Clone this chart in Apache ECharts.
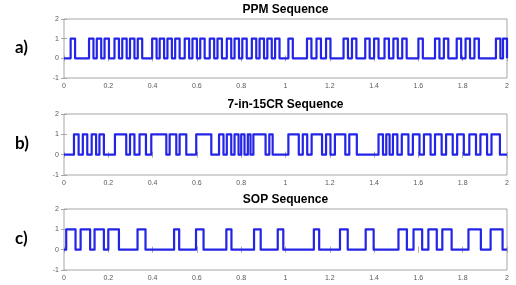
<!DOCTYPE html>
<html>
<head>
<meta charset="utf-8">
<script src="https://cdn.jsdelivr.net/npm/echarts@6/dist/echarts.min.js"></script>
<style>
  html, body { margin: 0; padding: 0; background: #fff; }
  #chart { width: 516px; height: 285px; }
</style>
</head>
<body>
<div id="chart"></div>
<script>
// pulse [start, end] pairs (time axis 0..2)
const ppmPulses = [
  [0.030, 0.050], [0.113, 0.133], [0.148, 0.168], [0.183, 0.203],
  [0.228, 0.248], [0.263, 0.283], [0.298, 0.318], [0.333, 0.353],
  [0.398, 0.418], [0.432, 0.452], [0.467, 0.487], [0.502, 0.522],
  [0.545, 0.565], [0.580, 0.600], [0.615, 0.635], [0.658, 0.678],
  [0.693, 0.713], [0.735, 0.755], [0.770, 0.790], [0.805, 0.825],
  [0.848, 0.868], [0.883, 0.903], [0.918, 0.938], [0.953, 0.973],
  [1.013, 1.033], [1.097, 1.117], [1.140, 1.160], [1.183, 1.203],
  [1.262, 1.282], [1.300, 1.320], [1.360, 1.380], [1.400, 1.420],
  [1.447, 1.467], [1.487, 1.507], [1.527, 1.547], [1.600, 1.620],
  [1.675, 1.695], [1.715, 1.735], [1.773, 1.793], [1.813, 1.833],
  [1.853, 1.873], [1.950, 1.970], [1.982, 2.000]
];

const crPulses = [
  [0.045, 0.066], [0.085, 0.105], [0.125, 0.145], [0.160, 0.180],
  [0.230, 0.281], [0.298, 0.318], [0.341, 0.370], [0.394, 0.462],
  [0.477, 0.507], [0.522, 0.552], [0.597, 0.665], [0.700, 0.720],
  [0.735, 0.755], [0.770, 0.788], [0.800, 0.815], [0.830, 0.842],
  [0.855, 0.910], [0.927, 0.942], [1.013, 1.060], [1.078, 1.098],
  [1.118, 1.165], [1.183, 1.203], [1.223, 1.270], [1.288, 1.322],
  [1.420, 1.440], [1.455, 1.470], [1.485, 1.505], [1.525, 1.555],
  [1.575, 1.605], [1.625, 1.655], [1.675, 1.705], [1.725, 1.755],
  [1.775, 1.805], [1.830, 1.860], [1.880, 1.910], [1.930, 1.968]
];

const sopPulses = [
  [0.010, 0.052], [0.075, 0.118], [0.138, 0.180], [0.200, 0.248],
  [0.332, 0.368], [0.497, 0.520], [0.596, 0.630], [0.733, 0.756],
  [0.858, 0.888], [0.965, 0.990], [1.128, 1.152], [1.246, 1.281],
  [1.362, 1.398], [1.510, 1.548], [1.578, 1.617], [1.645, 1.683],
  [1.708, 1.750], [1.826, 1.882], [1.926, 1.980]
];

const titles = ['PPM Sequence', '7-in-15CR Sequence', 'SOP Sequence'];
const panelLabels = ['a)', 'b)', 'c)'];

// square wave points from pulse edges
const toSteps = (pulses) => {
  const pts = [[0, 0]];
  pulses.forEach(([a, b]) => {
    pts.push([a, 0], [a, 1], [b, 1], [b, 0]);
  });
  pts.push([2, 0]);
  return pts;
};

const grids = [
  {left: 64, right: 9, top: 19, height: 59},
  {left: 64, right: 9, top: 114, height: 61},
  {left: 64, right: 9, top: 209, height: 61},
];

const boxColor = '#a6a6a6';
const labelColor = '#595959';

const xAxes = [];
const yAxes = [];
grids.forEach((g, i) => {
  const base = {
    gridIndex: i, type: 'value', min: 0, max: 2, interval: 0.2,
    axisLine: {show: false},
    axisTick: {inside: true, length: 3, lineStyle: {color: boxColor}},
    splitLine: {show: false},
  };
  xAxes.push({
    ...base, position: 'bottom',
    axisLabel: {color: labelColor, fontSize: 7, margin: 5, fontFamily: 'Liberation Sans'},
  });
  xAxes.push({...base, position: 'top', axisLabel: {show: false}});
  const ybase = {
    gridIndex: i, type: 'value', min: -1, max: 2, interval: 1,
    axisLine: {show: false},
    axisTick: {inside: true, length: 3, lineStyle: {color: boxColor}},
    splitLine: {show: false},
  };
  yAxes.push({
    ...ybase, position: 'left',
    axisLabel: {color: labelColor, fontSize: 7, margin: 5, fontFamily: 'Liberation Sans'},
  });
  yAxes.push({...ybase, position: 'right', axisLabel: {show: false}});
});

const allPulses = [ppmPulses, crPulses, sopPulses];
const series = allPulses.map((p, i) => ({
  type: 'line',
  xAxisIndex: i * 2,
  yAxisIndex: i * 2,
  data: toSteps(p),
  showSymbol: false,
  animation: false,
  lineStyle: {color: '#2424e8', width: 2.2, join: 'round'},
}));

const graphics = [];
titles.forEach((t, i) => {
  graphics.push({
    type: 'text', x: 285.5, y: grids[i].top - 9,
    style: {
      text: t, fill: '#000', font: 'bold 12px "Liberation Sans"',
      textAlign: 'center', textVerticalAlign: 'middle',
    },
  });
  graphics.push({
    type: 'text', x: 15, y: grids[i].top + grids[i].height / 2 - 1,
    style: {
      text: panelLabels[i], fill: '#000', font: 'bold 17px Lato',
      textAlign: 'left', textVerticalAlign: 'middle',
    },
  });
});

const chart = echarts.init(document.getElementById('chart'));
chart.setOption({
  backgroundColor: '#fff',
  animation: false,
  grid: grids.map(g => ({...g, show: true, borderColor: boxColor, borderWidth: 1, backgroundColor: 'transparent'})),
  xAxis: xAxes,
  yAxis: yAxes,
  series,
  graphic: graphics,
});
</script>
</body>
</html>
